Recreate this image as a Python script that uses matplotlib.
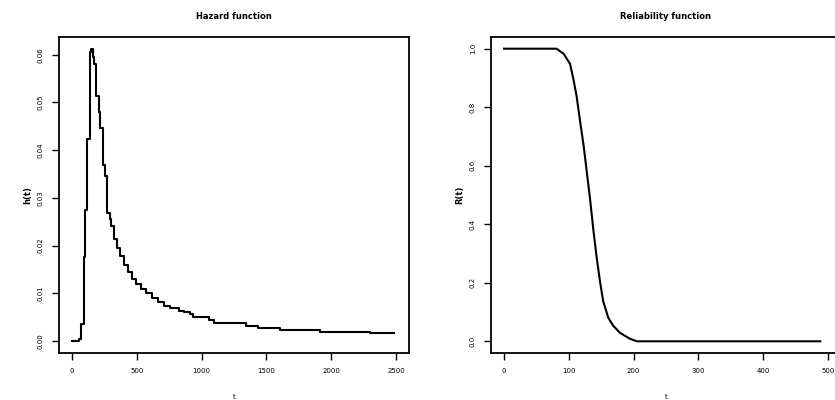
import matplotlib.pyplot as plt

# hazard estimate (step function)
haz_t = [0, 52, 72, 93, 103, 118, 137, 148, 160, 172, 188, 205, 219, 240, 258,
         271, 290, 302, 325, 350, 374, 400, 430, 464, 495, 529, 570, 619, 660,
         710, 760, 826, 867, 913, 930, 1058, 1097, 1341, 1432, 1607, 1917, 2296, 2485]
haz_h = [0.0, 0.00035, 0.0035, 0.0176, 0.0275, 0.0424, 0.0605, 0.0612, 0.0595,
         0.0580, 0.0514, 0.0480, 0.0447, 0.0369, 0.0346, 0.0269, 0.0255, 0.0242,
         0.0214, 0.0195, 0.0178, 0.0159, 0.0145, 0.0131, 0.0120, 0.0110, 0.0100,
         0.0090, 0.0082, 0.0074, 0.0069, 0.0064, 0.0060, 0.0057, 0.0050, 0.0044,
         0.0037, 0.0032, 0.0028, 0.0023, 0.0019, 0.0016, 0.0016]

# reliability estimate
rel_t = [0, 81, 92, 102, 107, 112, 117, 123, 128, 133, 138, 143, 148, 153, 161,
         169, 179, 194, 205, 488]
rel_r = [1.0, 1.0, 0.983, 0.948, 0.897, 0.839, 0.759, 0.667, 0.575, 0.483, 0.379,
         0.287, 0.207, 0.138, 0.080, 0.052, 0.029, 0.009, 0.0, 0.0]

haz_xticks = [0, 500, 1000, 1500, 2000, 2500]
haz_yticks = [0.00, 0.01, 0.02, 0.03, 0.04, 0.05, 0.06]
rel_xticks = [0, 100, 200, 300, 400, 500]
rel_yticks = [0.0, 0.2, 0.4, 0.6, 0.8, 1.0]

fig = plt.figure(figsize=(8.35, 4), dpi=100)
ax1 = fig.add_axes([59 / 835, 47 / 400, 350 / 835, 316 / 400])
ax2 = fig.add_axes([491 / 835, 47 / 400, 350 / 835, 316 / 400])

ax1.plot(haz_t, haz_h, color='black', lw=1.5, drawstyle='steps-post')
ax2.plot(rel_t, rel_r, color='black', lw=1.5)

def r_style(ax, xt, yt, yfmt, title, ylab):
    ax.set_xticks(xt)
    ax.set_yticks(yt)
    ax.set_xticklabels([str(v) for v in xt], fontsize=5)
    ax.set_yticklabels([yfmt.format(v) for v in yt], fontsize=5, rotation=90,
                       va='center')
    ax.tick_params(direction='out', length=5, width=1, pad=6)
    for s in ax.spines.values():
        s.set_linewidth(1.3)
    ax.set_title(title, fontsize=6, fontweight='bold', pad=13)
    ax.set_xlabel('t', fontsize=5, labelpad=14)
    ax.set_ylabel(ylab, fontsize=6, fontweight='bold', labelpad=4)

r_style(ax1, haz_xticks, haz_yticks, '{:.2f}', 'Hazard function', 'h(t)')
r_style(ax2, rel_xticks, rel_yticks, '{:.1f}', 'Reliability function', 'R(t)')
ax1.set_xlim(-100, 2600)
ax1.set_ylim(-0.0025, 0.0637)
ax2.set_xlim(-20, 520)
ax2.set_ylim(-0.04, 1.04)

fig.savefig('out.png', dpi=100)
